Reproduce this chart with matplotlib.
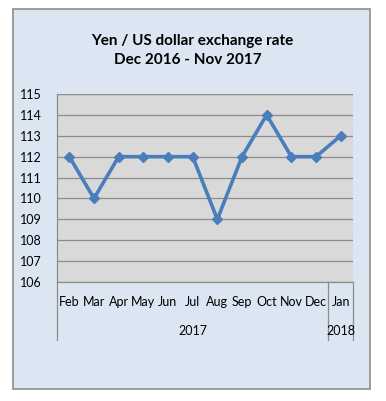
import matplotlib
matplotlib.use("Agg")
import matplotlib.pyplot as plt
from matplotlib.patches import Rectangle

# data
months = ["Feb", "Mar", "Apr", "May", "Jun", "Jul", "Aug", "Sep", "Oct", "Nov", "Dec", "Jan"]
years = ["2017", "2018"]
year_counts = [11, 1]
rates = [112, 110, 112, 112, 112, 112, 109, 112, 114, 112, 112, 113]
y_ticks = [106, 107, 108, 109, 110, 111, 112, 113, 114, 115]

W, H = 386, 401
plt.rcParams['font.family'] = ['Lato', 'DejaVu Sans']

fig = plt.figure(figsize=(W / 100, H / 100), dpi=100)
fig.patch.set_facecolor("white")

# outer chart frame (pixels -> figure fraction)
x0, y0, x1, y1 = 13, 9, 370, 389
fig.patches.append(Rectangle((x0 / W, 1 - y1 / H), (x1 - x0) / W, (y1 - y0) / H,
                             transform=fig.transFigure, facecolor="#dce6f2",
                             edgecolor="#8c8c8c", linewidth=1.2, zorder=-1))

fig.text(192 / W, 1 - 41 / H, "Yen / US dollar exchange rate", ha="center", va="center",
         fontsize=11, fontweight="bold")
fig.text(188 / W, 1 - 60 / H, "Dec 2016 - Nov 2017", ha="center", va="center",
         fontsize=11, fontweight="bold")

# plot area
left, right, top, bottom = 57, 353, 94, 282
ax = fig.add_axes([left / W, 1 - bottom / H, (right - left) / W, (bottom - top) / H])
ax.set_facecolor("#d9d9d9")

x = list(range(len(months)))
ax.plot(x, rates, color="#4a7ebb", linewidth=2.6, marker="D", markersize=5.5,
        markeredgecolor="#4a7ebb", zorder=3)

ax.set_xlim(-0.5, len(months) - 0.5)
ax.set_ylim(y_ticks[0], y_ticks[-1])
ax.set_yticks(y_ticks)
ax.set_yticklabels([str(t) for t in y_ticks], fontsize=9)
ax.set_xticks(x)
ax.set_xticklabels(months, fontsize=9)
ax.tick_params(axis="y", length=0, pad=11)
ax.tick_params(axis="x", length=0, pad=10)
ax.grid(axis="y", color="#8c8c8c", linewidth=0.9)
ax.set_axisbelow(True)
for side in ["top", "right", "left"]:
    ax.spines[side].set_visible(False)
ax.spines["bottom"].set_color("#8c8c8c")
ax.spines["bottom"].set_linewidth(0.9)
ax.axhline(y_ticks[-1], color="#8c8c8c", linewidth=0.9)

# multi-level category labels (year groups)
trans = ax.get_xaxis_transform()
line_bottom = -(340 - bottom) / (bottom - top)
start = -0.5
ax.plot([start, start], [1, line_bottom], transform=trans, color="#8c8c8c",
        linewidth=0.9, clip_on=False)
for year, count in zip(years, year_counts):
    end = start + count
    ax.plot([end, end], [0, line_bottom], transform=trans, color="#8c8c8c",
            linewidth=0.9, clip_on=False)
    ax.text((start + end) / 2, -(331 - bottom) / (bottom - top), year, transform=trans,
            ha="center", va="center", fontsize=9)
    start = end

fig.savefig("out.png", dpi=100)
